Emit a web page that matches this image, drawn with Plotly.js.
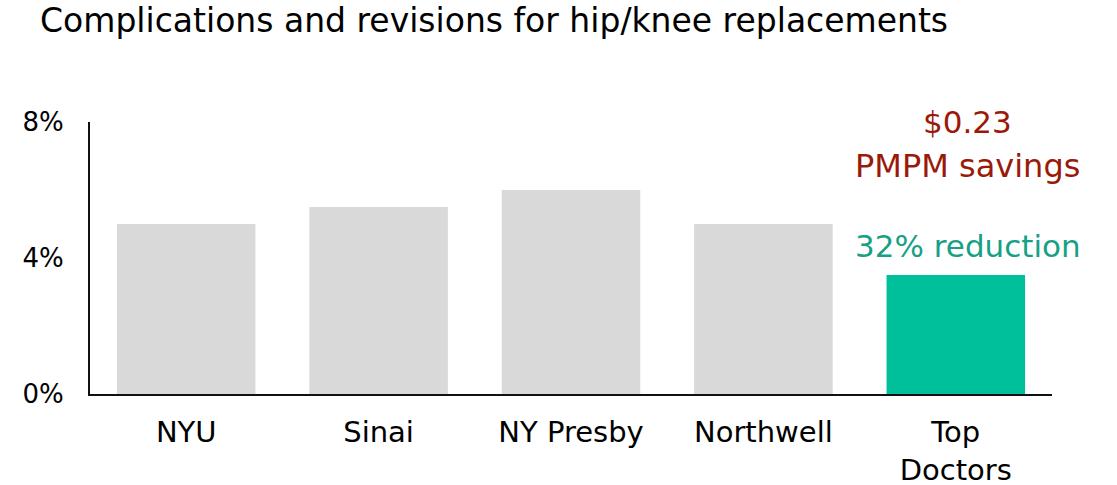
<!DOCTYPE html>
<html>
<head>
<meta charset="utf-8">
<script src="https://cdn.plot.ly/plotly-3.0.1.min.js"></script>
<style>html,body{margin:0;padding:0;background:#fff;}#chart{width:1117px;height:485px;}</style>
</head>
<body>
<div id="chart"></div>
<script>
const categories = ["NYU", "Sinai", "NY Presby", "Northwell", "Top<br>Doctors"];
const rates = [5.0, 5.5, 6.0, 5.0, 3.5];
const barColors = ["#D9D9D9", "#D9D9D9", "#D9D9D9", "#D9D9D9", "#00BF9B"];
const yTickVals = [0, 4, 8];
const yTickText = ["0%", "4%", "8%"];
const titleText = "Complications and revisions for hip/knee replacements";
const savingsLine1 = "$0.23";
const savingsLine2 = "PMPM savings";
const reductionText = "32% reduction";

const FONT = "DejaVu Sans, Verdana, sans-serif";

const trace = {
  type: "bar",
  x: categories,
  y: rates,
  marker: {color: barColors, line: {width: 0}},
  hoverinfo: "skip"
};

const layout = {
  width: 1117,
  height: 485,
  margin: {l: 90, r: 65, t: 122, b: 91, autoexpand: false},
  paper_bgcolor: "#fff",
  plot_bgcolor: "#fff",
  showlegend: false,
  bargap: 0.28,
  font: {family: FONT, color: "#000", size: 28},
  title: {
    text: titleText,
    font: {family: FONT, size: 33, color: "#000"},
    xref: "container", yref: "container",
    x: 40/1117, xanchor: "left",
    y: 1 - 20.5/485, yanchor: "middle",
    automargin: false
  },
  xaxis: {
    automargin: false,
    range: [-0.5, categories.length - 0.5],
    showline: true, linecolor: "#111", linewidth: 2,
    showgrid: false, zeroline: false,
    ticks: "outside", ticklen: 11, tickcolor: "rgba(0,0,0,0)",
    tickfont: {family: FONT, size: 29, color: "#000"},
    fixedrange: true
  },
  yaxis: {
    automargin: false,
    range: [0, 8],
    tickvals: yTickVals, ticktext: yTickText,
    showline: true, linecolor: "#111", linewidth: 2,
    showgrid: false, zeroline: false,
    ticks: "outside", ticklen: 19, tickcolor: "rgba(0,0,0,0)",
    tickfont: {family: FONT, size: 26, color: "#000"},
    fixedrange: true
  },
  annotations: [
    {x: categories[4], y: 8.0, xref: "x", yref: "y", text: savingsLine1, showarrow: false, xshift: 12,
     xanchor: "center", yanchor: "middle", font: {family: FONT, size: 31, color: "#9A1A0A"}},
    {x: categories[4], y: 6.7, xref: "x", yref: "y", text: savingsLine2, showarrow: false, xshift: 12,
     xanchor: "center", yanchor: "middle", font: {family: FONT, size: 32, color: "#9A1A0A"}},
    {x: categories[4], y: 4.35, xref: "x", yref: "y", text: reductionText, showarrow: false, xshift: 12,
     xanchor: "center", yanchor: "middle", font: {family: FONT, size: 31, color: "#17A085"}}
  ]
};

Plotly.newPlot("chart", [trace], layout, {displayModeBar: false, staticPlot: true});
</script>
</body>
</html>
